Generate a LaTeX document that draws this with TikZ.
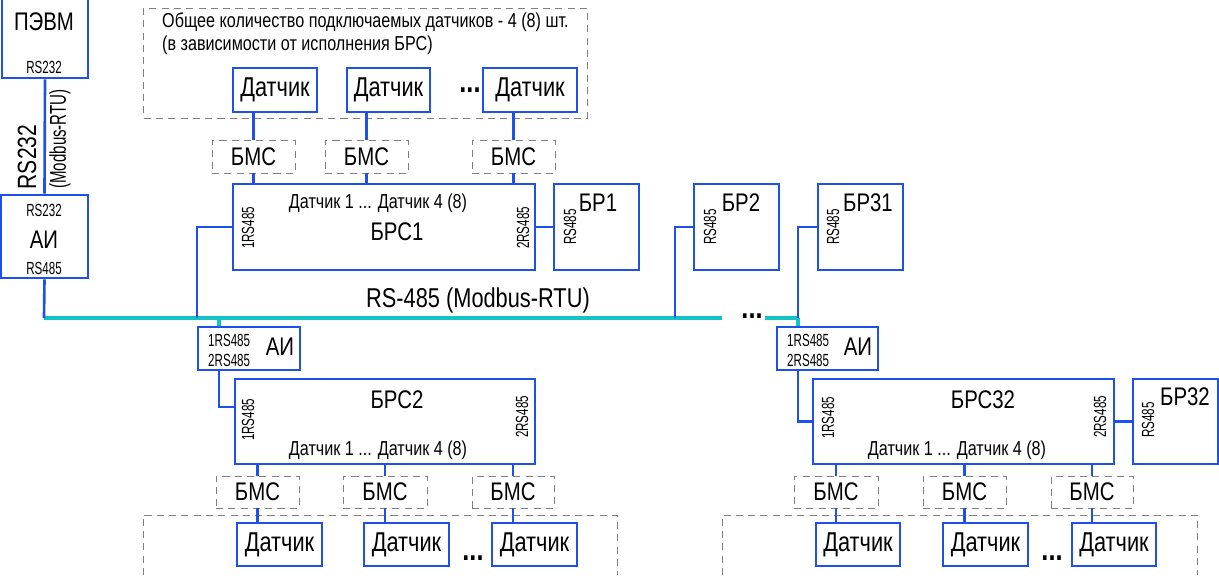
\documentclass[tikz,border=0pt]{standalone}
\usepackage{fontspec}
\setmainfont[FakeStretch=0.8]{Liberation Sans}
\newfontfamily\narrowfont[FakeStretch=0.66]{Liberation Sans}
\usetikzlibrary{fit}
\definecolor{wireblue}{RGB}{30,80,235}
\definecolor{buscyan}{RGB}{20,195,195}

\begin{document}
\begin{tikzpicture}[x=0.02cm,y=-0.02cm,
  box/.style={draw=wireblue, line width=1.5pt, inner sep=0pt},
  dbox/.style={draw=gray, dash pattern=on 4pt off 3pt, line width=0.5pt, inner sep=0pt},
  wire/.style={draw=wireblue, line width=1.5pt},
  bus/.style={draw=buscyan, line width=2pt},
  big/.style={font=\fontsize{14.5}{14.5}\selectfont},
  mid/.style={font=\fontsize{11.5}{11.5}\selectfont},
  small/.style={font=\narrowfont\fontsize{10}{10}\selectfont},
  port/.style={small, rotate=90},
  dots/.style={font=\bfseries\fontsize{18}{18}\selectfont, inner sep=0pt},
  sensor/.style={box, label={[font=\fontsize{15.5}{15.5}\selectfont]center:Датчик}},
  bms/.style={dbox, label={[big]center:БМС}}]

 \useasboundingbox (0,0) rectangle (1219,575);

 % ПЭВМ et АИ
 \node[box, fit={(2,-5) (88,78)}] (pc) {};
 \node[big] at (44,22) {ПЭВМ};
 \node[small] at (44,67) {RS232};
 \node[box, fit={(1,195) (88,278)}] (ai0) {};
 \node[small] at (44,210) {RS232};
 \node[big] at (44,240) {АИ};
 \node[small] at (44,268) {RS485};
 \draw[wire] (pc.south) -- (ai0.north);
 \node[rotate=90, font=\fontsize{15}{15}\selectfont] at (27,157) {RS232};
 \node[rotate=90, font=\narrowfont\fontsize{13}{13}\selectfont] at (60,139) {(Modbus-RTU)};

 % datchiki en haut
 \draw[dbox] (143,8) rectangle (587,118);
 \node[mid, anchor=west] at (156,22) {Общее количество подключаемых датчиков - 4 (8) шт.};
 \node[mid, anchor=west] at (156,45) {(в зависимости от исполнения БРС)};
 \node[sensor, fit={(233,68) (317,112)}] (t1) {};
 \node[sensor, fit={(347,68) (430,112)}] (t2) {};
 \node[sensor, fit={(483,68) (577,112)}] (t3) {};
 \node[dots] at (470,90) {...};
 \node[bms, fit={(212,140) (295,173)}] (tm1) {};
 \node[bms, fit={(325,140) (408,173)}] (tm2) {};
 \node[bms, fit={(472,140) (555,173)}] (tm3) {};

 % БРС1 et БР
 \node[box, fit={(233,184) (535,270)}] (brs1) {};
 \node[mid] at (378,203) {Датчик 1 ... Датчик 4 (8)};
 \node[big] at (397,232) {БРС1};
 \node[port] at (248,228) {1RS485};
 \node[port] at (523,228) {2RS485};
 \foreach \i in {1,2,3} {
   \draw[wire] (tm\i.north) -- (tm\i.north |- t\i.south);
   \draw[wire] (tm\i.south) -- (tm\i.south |- brs1.north);
 }
 \node[box, fit={(554,184) (639,270)}] (br1) {};
 \node[big] at (598,203) {БР1};
 \node[port] at (570,227) {RS485};
 \node[box, fit={(694,184) (779,270)}] (br2) {};
 \node[big] at (741,203) {БР2};
 \node[port] at (710,227) {RS485};
 \node[box, fit={(818,184) (903,270)}] (br31) {};
 \node[big] at (868,203) {БР31};
 \node[port] at (833,227) {RS485};
 \draw[wire] (brs1.east) -- (br1.west);

 % шина RS-485
 \coordinate (b0) at (44,318);
 \coordinate (tap1) at (197,318);
 \coordinate (tap2) at (219,318);
 \coordinate (tap3) at (675,318);
 \coordinate (bend) at (722,318);
 \coordinate (cont) at (765,318);
 \coordinate (tap4) at (798,318);
 \draw[bus] (b0) -- (bend);
 \draw[bus] (cont) -- (tap4);
 \node[dots] at (752,316) {...};
 \node[font=\fontsize{15.5}{15.5}\selectfont] at (478,300) {RS-485 (Modbus-RTU)};
 \draw[wire] (ai0.south) -- (b0);
 \draw[wire] (brs1.west) -| (tap1);
 \draw[wire] (br2.west) -| (tap3);
 \draw[wire] (br31.west) -| (tap4);

 % АИ et БРС2
 \node[box, fit={(198,327) (300,370)}] (ai1) {};
 \node[small, anchor=west] at (202,340) {1RS485};
 \node[small, anchor=west] at (202,360) {2RS485};
 \node[big] at (280,347) {АИ};
 \draw[bus] (tap2) -- (tap2 |- ai1.north);
 \node[box, fit={(235,379) (535,464)}] (brs2) {};
 \node[big] at (397,400) {БРС2};
 \node[port] at (248,420) {1RS485};
 \node[port] at (522,417) {2RS485};
 \node[mid] at (378,450) {Датчик 1 ... Датчик 4 (8)};
 \coordinate (j2) at (235,407);
 \draw[wire] (tap2 |- ai1.south) |- (j2);
 \node[bms, fit={(216,476) (299,508)}] (lm1) {};
 \node[bms, fit={(343,476) (427,508)}] (lm2) {};
 \node[bms, fit={(472,476) (554,508)}] (lm3) {};
 \draw[dbox] (143,575) |- (617,515) -- (617,575);
 \node[sensor, fit={(237,523) (322,566)}] (l1) {};
 \node[sensor, fit={(364,523) (449,566)}] (l2) {};
 \node[sensor, fit={(492,523) (577,566)}] (l3) {};
 \node[dots] at (473,558) {...};
 \foreach \i in {1,2,3} {
   \draw[wire] (lm\i.north) -- (lm\i.north |- brs2.south);
   \draw[wire] (lm\i.south) -- (lm\i.south |- l\i.north);
 }

 % АИ et БРС32
 \node[box, fit={(777,327) (878,370)}] (ai2) {};
 \node[small, anchor=west] at (781,340) {1RS485};
 \node[small, anchor=west] at (781,360) {2RS485};
 \node[big] at (858,347) {АИ};
 \draw[bus] (tap4) -- (tap4 |- ai2.north);
 \node[box, fit={(813,379) (1114,464)}] (brs32) {};
 \node[big] at (983,400) {БРС32};
 \node[port] at (828,418) {1RS485};
 \node[port] at (1100,417) {2RS485};
 \node[mid] at (957,450) {Датчик 1 ... Датчик 4 (8)};
 \draw[wire] (tap4 |- ai2.south) |- (brs32.west);
 \node[box, fit={(1133,379) (1218,464)}] (br32) {};
 \node[big] at (1185,397) {БР32};
 \node[port] at (1148,420) {RS485};
 \draw[wire] (brs32.east) -- (br32.west);
 \node[bms, fit={(794,476) (878,508)}] (rm1) {};
 \node[bms, fit={(923,476) (1006,508)}] (rm2) {};
 \node[bms, fit={(1051,476) (1133,508)}] (rm3) {};
 \draw[dbox] (722,575) |- (1197,515) -- (1197,575);
 \node[sensor, fit={(816,523) (900,566)}] (r1) {};
 \node[sensor, fit={(943,523) (1028,566)}] (r2) {};
 \node[sensor, fit={(1072,523) (1156,566)}] (r3) {};
 \node[dots] at (1052,558) {...};
 \foreach \i in {1,2,3} {
   \draw[wire] (rm\i.north) -- (rm\i.north |- brs32.south);
   \draw[wire] (rm\i.south) -- (rm\i.south |- r\i.north);
 }

\end{tikzpicture}
\end{document}
